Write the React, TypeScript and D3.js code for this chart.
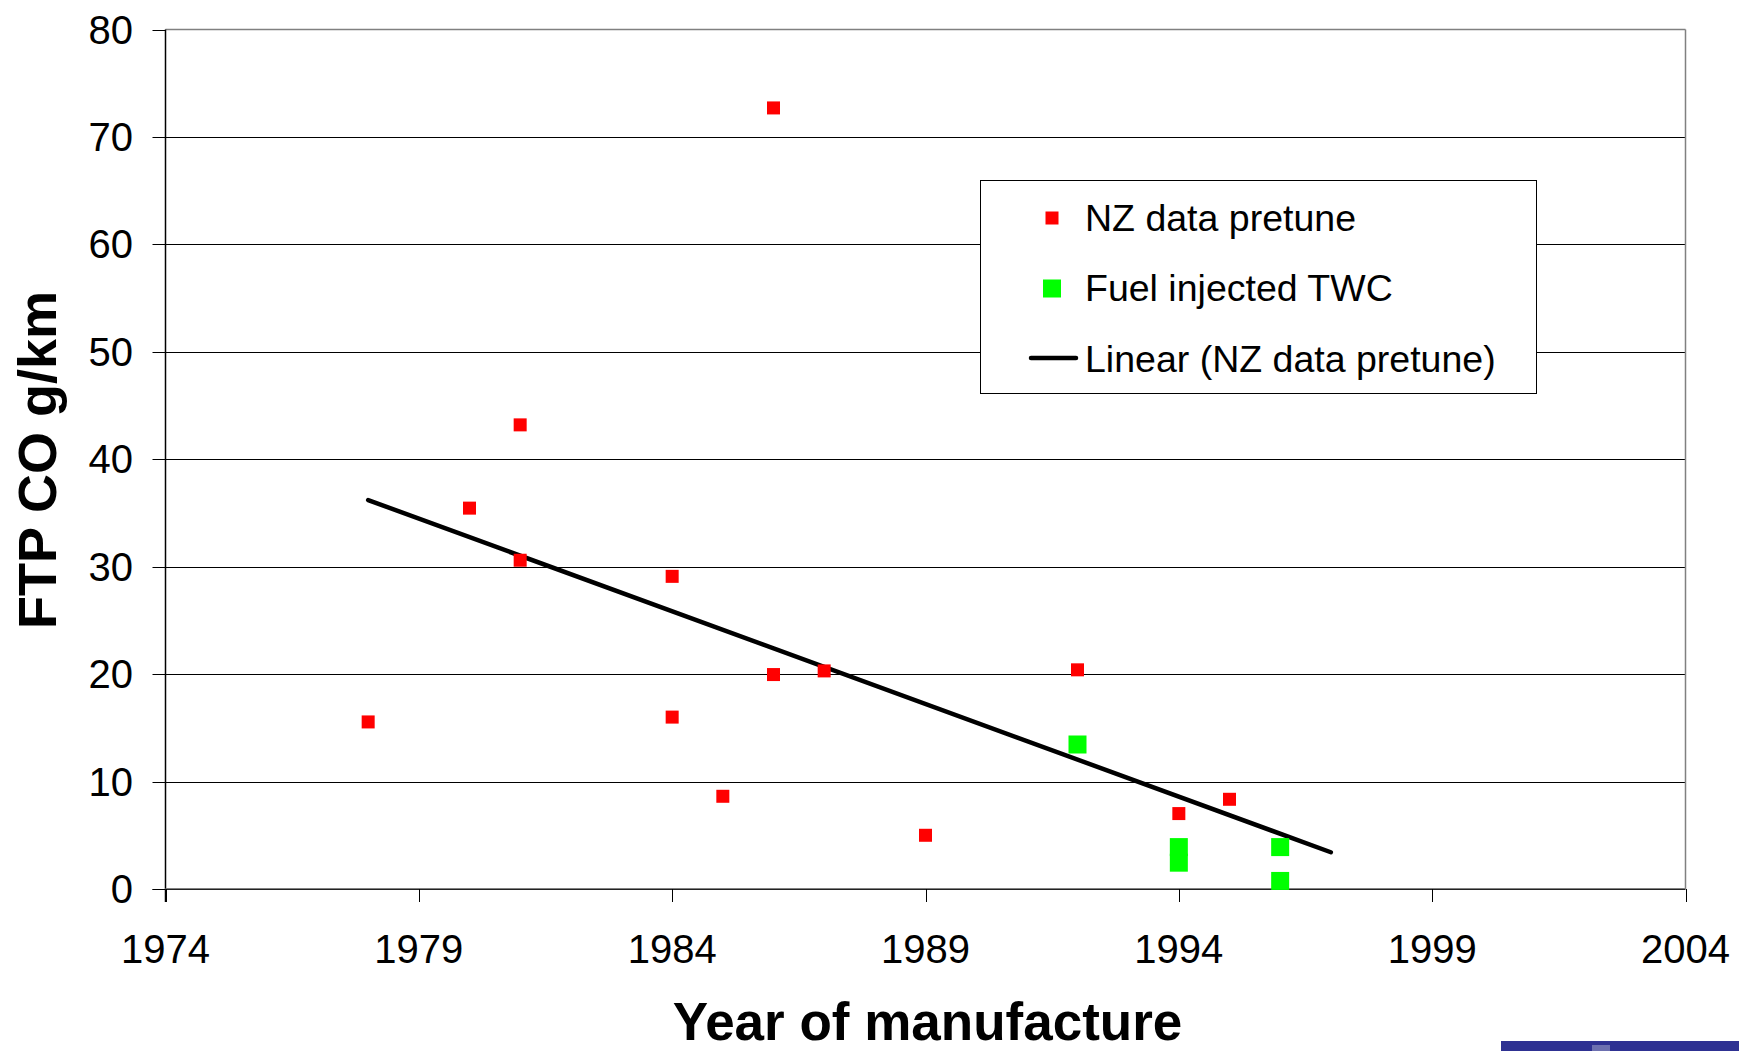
import React from "react";
import * as d3 from "d3";

const nzYears = [1978, 1980, 1981, 1981, 1984, 1984, 1985, 1986, 1986, 1987, 1989, 1992, 1994, 1995];
const nzValues = [15.55, 35.45, 43.2, 30.6, 29.1, 16.0, 8.63, 72.7, 19.96, 20.3, 5.0, 20.4, 7.02, 8.35];

const twcYears = [1992, 1994, 1994, 1996, 1996];
const twcValues = [13.45, 3.9, 2.45, 3.9, 0.75];

const trendYears = [1978, 1997];
const trendValues = [36.2, 3.42];

const xTicks = [1974, 1979, 1984, 1989, 1994, 1999, 2004];
const yTicks = [0, 10, 20, 30, 40, 50, 60, 70, 80];

const legendLabels = ["NZ data pretune", "Fuel injected TWC", "Linear (NZ data pretune)"];

const W = 1739;
const H = 1051;
const L = 165.5;
const R = 1685.5;
const T = 29.5;
const B = 889;
const FONT = "'Liberation Sans', Arial, Helvetica, sans-serif";

export default function App() {
  const x = d3.scaleLinear().domain([1974, 2004]).range([L, R]);
  const y = d3.scaleLinear().domain([0, 80]).range([B, T]);
  const line = d3
    .line<number>()
    .x((_, i) => x(trendYears[i]))
    .y((d) => y(d));

  const redS = 13;
  const greenS = 18;

  return (
    <svg
      width={W}
      height={H}
      style={{ position: "absolute", left: 0, top: 0, background: "#fff" }}
      fontFamily={FONT}
    >
      <rect x={0} y={0} width={W} height={H} fill="#fff" />
      {/* gridlines */}
      {yTicks
        .filter((t) => t > 0 && t < 80)
        .map((t) => (
          <line key={t} x1={L} x2={R} y1={Math.round(y(t)) + 0.5} y2={Math.round(y(t)) + 0.5} stroke="#000" strokeWidth={1} />
        ))}
      {/* plot border */}
      <line x1={L} x2={R} y1={T} y2={T} stroke="#808080" strokeWidth={1.5} />
      <line x1={R} x2={R} y1={T} y2={B} stroke="#808080" strokeWidth={1.5} />
      {/* axes */}
      <line x1={L} x2={L} y1={T} y2={B + 13} stroke="#000" strokeWidth={1.5} />
      <line x1={L} x2={R} y1={B - 0.5} y2={B - 0.5} stroke="#808080" strokeWidth={1} />
      <line x1={L - 13} x2={R} y1={B + 0.5} y2={B + 0.5} stroke="#222" strokeWidth={1.2} />
      {yTicks.map((t) => (
        <g key={t}>
          <line x1={L - 13} x2={L} y1={Math.round(y(t)) + 0.5} y2={Math.round(y(t)) + 0.5} stroke="#000" strokeWidth={1} />
          <text x={133} y={y(t) + 14} textAnchor="end" fontSize={40} fill="#000">
            {t}
          </text>
        </g>
      ))}
      {xTicks.map((t) => (
        <g key={t}>
          <line x1={Math.round(x(t)) + 0.5} x2={Math.round(x(t)) + 0.5} y1={B} y2={B + 13} stroke="#000" strokeWidth={1} />
          <text x={x(t)} y={962.5} textAnchor="middle" fontSize={40} fill="#000">
            {t}
          </text>
        </g>
      ))}
      {/* trend line */}
      <path d={line(trendValues) || ""} fill="none" stroke="#000" strokeWidth={4.5} strokeLinecap="round" />
      {/* NZ data */}
      {nzValues.map((v, i) => (
        <rect key={"r" + i} x={x(nzYears[i]) - redS / 2} y={y(v) - redS / 2} width={redS} height={redS} fill="#ff0000" />
      ))}
      {/* TWC */}
      {twcValues.map((v, i) => (
        <rect key={"g" + i} x={x(twcYears[i]) - greenS / 2} y={y(v) - greenS / 2} width={greenS} height={greenS} fill="#00ff00" />
      ))}
      {/* legend */}
      <rect x={980.5} y={180.5} width={556} height={213} fill="#fff" stroke="#000" strokeWidth={1} />
      <rect x={1052 - 6.5} y={218 - 6.5} width={13} height={13} fill="#ff0000" />
      <rect x={1052 - 9} y={288.5 - 9} width={18} height={18} fill="#00ff00" />
      <line x1={1031} x2={1076} y1={358} y2={358} stroke="#000" strokeWidth={4.5} strokeLinecap="round" />
      {legendLabels.map((l, i) => (
        <text key={l} x={1085} y={230.7 + i * 70.5} fontSize={37.5} fill="#000">
          {l}
        </text>
      ))}
      {/* axis titles */}
      <text x={(L + R) / 2 + 2} y={1039.5} textAnchor="middle" fontSize={53} fontWeight="bold" fill="#000">
        Year of manufacture
      </text>
      <text
        transform={`translate(56, 460) rotate(-90)`}
        textAnchor="middle"
        fontSize={54}
        fontWeight="bold"
        fill="#000"
      >
        FTP CO g/km
      </text>
      {/* bottom-right banner */}
      <rect x={1501} y={1041} width={238} height={10} fill="#2e3192" />
      <rect x={1592} y={1045} width={18} height={6} fill="#6d70b0" />
    </svg>
  );
}
